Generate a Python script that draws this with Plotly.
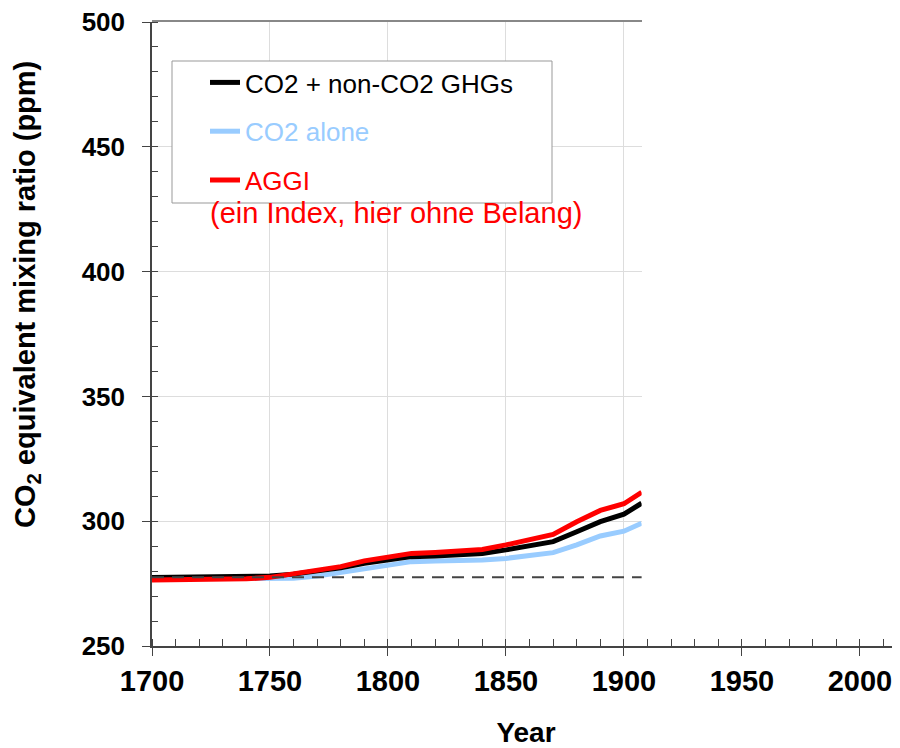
import plotly.graph_objects as go

years = [1700, 1710, 1720, 1730, 1740, 1750, 1760, 1770, 1780, 1790, 1800, 1810,
         1820, 1830, 1840, 1850, 1860, 1870, 1880, 1890, 1900, 1907.5]
co2_plus_ghg = [277.4, 277.5, 277.6, 277.7, 277.8, 278.0, 278.8, 280.0, 281.3, 283.1, 284.5, 285.8,
                286.1, 286.5, 287.1, 288.5, 290.1, 291.8, 295.8, 299.8, 302.8, 307.2]
co2_alone = [277.0, 277.0, 277.0, 277.0, 276.9, 276.7, 277.1, 278.0, 279.4, 281.1, 282.5, 283.8,
             284.1, 284.2, 284.5, 285.1, 286.1, 287.4, 290.5, 294.1, 296.0, 299.2]
aggi = [276.4, 276.5, 276.6, 276.7, 276.9, 277.5, 278.8, 280.3, 281.8, 284.1, 285.8, 287.1,
        287.5, 288.0, 288.7, 290.5, 292.7, 294.7, 299.8, 304.3, 307.0, 311.6]
baseline_years = [1700, 1907.5]
baseline_value = [277.5, 277.5]

x_ticks = [1700, 1750, 1800, 1850, 1900, 1950, 2000]
y_ticks = [250, 300, 350, 400, 450, 500]
x_range = [1700, 2017]
grid_end = 1907.5
y_range = [250, 500]

FAM = "Liberation Sans, Arial"
BOLD = dict(family=FAM, color="black", weight="bold")

# plot area in screen pixels (page body adds an 8px offset)
OFF = 8
PL, PT, PW, PH = 152, 22, 748, 624
FIG_W, FIG_H = 900 - OFF, 748 - OFF


def px(xs):
    return (xs - PL) / PW


def py(ys):
    return (PT + PH - ys) / PH


fig = go.Figure()
fig.add_trace(go.Scatter(x=years, y=co2_alone, mode="lines",
                         name="<span style='color:#99ccff'>CO2 alone</span>",
                         line=dict(color="#99ccff", width=5), legendrank=2, legendgroup="b"))
fig.add_trace(go.Scatter(x=years, y=co2_plus_ghg, mode="lines",
                         name="CO2 + non-CO2 GHGs",
                         line=dict(color="black", width=5), legendrank=1, legendgroup="a"))
fig.add_trace(go.Scatter(x=years, y=aggi, mode="lines",
                         name="<span style='color:#ff0000'>AGGI</span>",
                         line=dict(color="#ff0000", width=5), legendrank=3, legendgroup="c"))
fig.add_trace(go.Scatter(x=baseline_years, y=baseline_value, mode="lines", xaxis="x2", yaxis="y2",
                         showlegend=False,
                         line=dict(color="#444444", width=2, dash="12px,8px")))

frac = (grid_end - x_range[0]) / (x_range[1] - x_range[0])

fig.update_layout(
    width=FIG_W, height=FIG_H,
    margin=dict(l=PL - OFF, r=FIG_W - (PL - OFF) - PW, t=PT - OFF, b=FIG_H - (PT - OFF) - PH),
    paper_bgcolor="white", plot_bgcolor="rgba(0,0,0,0)",
    showlegend=True,
    legend=dict(x=px(205), y=py(59), xanchor="left", yanchor="top",
                bgcolor="rgba(0,0,0,0)", borderwidth=0,
                font=dict(family=FAM, size=26, color="black"),
                traceorder="grouped", tracegroupgap=12),
    # grid subplot (only the part of the timeline already drawn)
    xaxis=dict(range=[x_range[0], grid_end], domain=[0, frac], anchor="y", dtick=50,
               showgrid=True, gridcolor="#dddddd", gridwidth=1, showticklabels=False,
               ticks="", showline=True, mirror=True, linecolor="#888888", linewidth=1.5,
               zeroline=False),
    yaxis=dict(range=y_range, domain=[0, 1], anchor="x", dtick=50,
               showgrid=True, gridcolor="#dddddd", gridwidth=1, showticklabels=False,
               ticks="", showline=False, zeroline=False),
    # full axes with ticks and labels
    xaxis2=dict(range=x_range, domain=[0, 1], anchor="y2", tickvals=x_ticks,
                ticks="outside", ticklen=8, tickcolor="#444", tickwidth=1,
                minor=dict(dtick=10, ticks="inside", ticklen=7, tickcolor="#444", showgrid=False),
                showline=True, linecolor="#444", linewidth=1.5, showgrid=False, zeroline=False,
                tickfont=dict(size=29, **BOLD), ticklabeloverflow="allow",
                title=dict(text="Year", font=dict(size=28, **BOLD), standoff=28)),
    yaxis2=dict(range=y_range, domain=[0, 1], anchor="x2", tickvals=y_ticks,
                ticks="outside", ticklen=8, tickcolor="#444", tickwidth=1,
                minor=dict(dtick=10, ticks="inside", ticklen=6, tickcolor="#444", showgrid=False),
                showline=True, linecolor="#444", linewidth=1.5, showgrid=False, zeroline=False,
                tickfont=dict(size=26, **BOLD), ticklabeloverflow="allow",
                ticklabelstandoff=12),
)

# legend frame
fig.add_shape(type="rect", xref="paper", yref="paper",
              x0=px(172), x1=px(552), y0=py(203), y1=py(61),
              fillcolor="white", line=dict(color="#999999", width=1), layer="above")

fig.add_annotation(xref="paper", yref="paper", x=0, xshift=-125, y=py(295),
                   text="CO<sub>2</sub> equivalent mixing ratio (ppm)", textangle=-90,
                   showarrow=False, xanchor="center", yanchor="middle",
                   font=dict(size=29, **BOLD))
fig.add_annotation(xref="paper", yref="paper", x=px(208), y=py(213),
                   text="(ein Index, hier ohne Belang)", showarrow=False,
                   xanchor="left", yanchor="middle",
                   font=dict(family=FAM, size=29, color="#ff0000"))

fig.write_html("out.html")
